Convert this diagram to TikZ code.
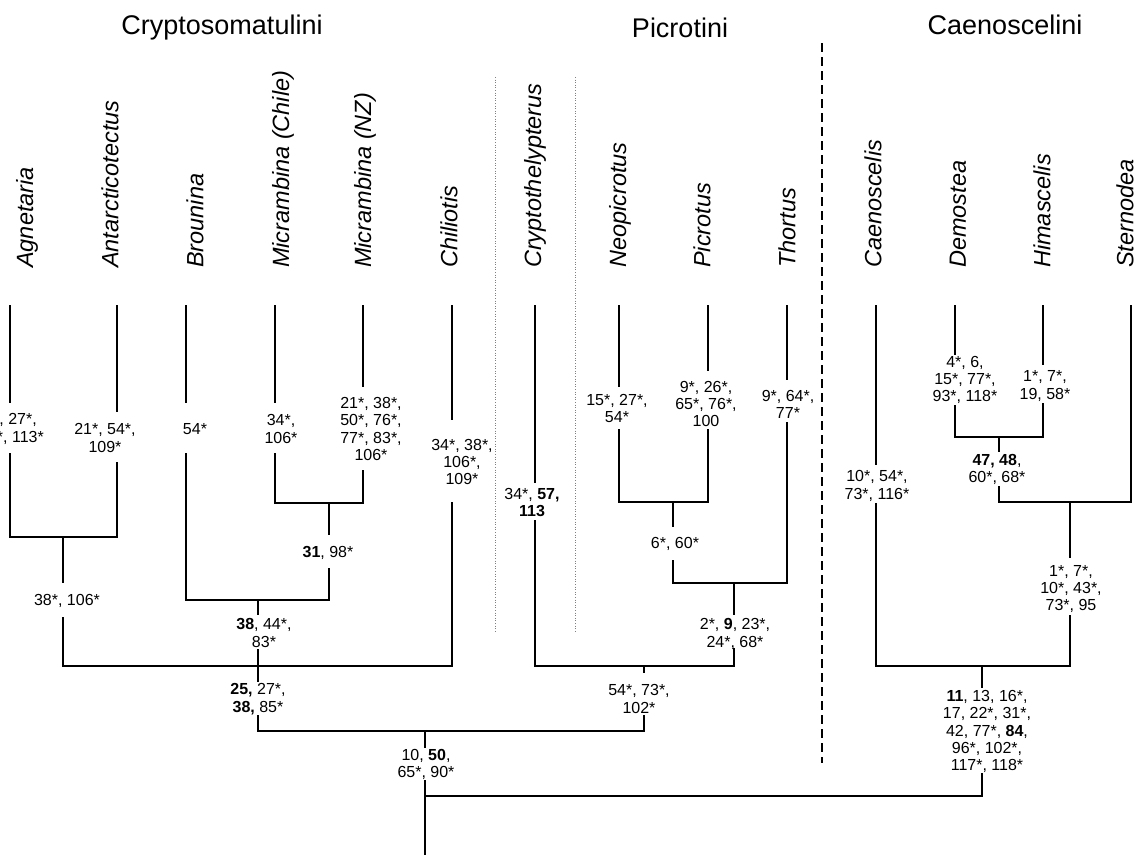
\documentclass[tikz,border=0pt]{standalone}
\usepackage{fontspec}
\setmainfont{Liberation Sans}
\begin{document}
\begin{tikzpicture}[x=1pt,y=-1pt,
  br/.style={line width=1.5pt, line join=miter},
  gapbox/.style={fill=white, inner sep=0pt, minimum width=7pt},
  lab/.style={font=\fontsize{16}{17.3}\selectfont, align=center, inner sep=0pt},
  taxon/.style={rotate=90, anchor=west, inner sep=0pt, font=\fontsize{23.5}{28}\selectfont\itshape},
  grouptitle/.style={anchor=base, inner sep=0pt, font=\fontsize{27}{32}\selectfont},
  tribesep/.style={line width=0.6pt, gray, dotted},
  cladesep/.style={line width=1.5pt, dash pattern=on 9pt off 5pt}]
\useasboundingbox (0,0) rectangle (1137,857);
\fill[white] (0,0) rectangle (1137,857);

% group titles
\node[grouptitle] (gCry) at (222,34) {Cryptosomatulini};
\node[grouptitle] (gPic) at (680,37.5) {Picrotini};
\node[grouptitle] (gCae) at (1005,34.5) {Caenoscelini};

% separators
\coordinate (d1t) at (495,77); \coordinate (d1b) at (495,632);
\coordinate (d2t) at (575,77); \coordinate (d2b) at (575,632);
\coordinate (dsT) at (822,43); \coordinate (dsB) at (822,763);
\draw[tribesep] (d1t) -- (d1b);
\draw[tribesep] (d2t) -- (d2b);
\draw[cladesep] (dsT) -- (dsB);

% taxon names
\node[taxon] (lAgn) at (27,268) {Agnetaria};
\node[taxon] (lAnt) at (110,268) {Antarcticotectus};
\node[taxon] (lBro) at (195,268) {Brounina};
\node[taxon] (lMC)  at (283,268) {Micrambina (Chile)};
\node[taxon] (lMN)  at (365,268) {Micrambina (NZ)};
\node[taxon] (lChi) at (449,268) {Chiliotis};
\node[taxon] (lCry) at (535,268) {Cryptothelypterus};
\node[taxon] (lNeo) at (620,268) {Neopicrotus};
\node[taxon] (lPic) at (702,268) {Picrotus};
\node[taxon] (lTho) at (787,268) {Thortus};
\node[taxon] (lCae) at (873,268) {Caenoscelis};
\node[taxon] (lDem) at (958,268) {Demostea};
\node[taxon] (lHim) at (1042,268) {Himascelis};
\node[taxon] (lSte) at (1125,268) {Sternodea};

% tips
\coordinate (tAgn) at (10,305);
\coordinate (tAnt) at (117,305);
\coordinate (tBro) at (186,305);
\coordinate (tMC)  at (275,305);
\coordinate (tMN)  at (363,305);
\coordinate (tChi) at (452,305);
\coordinate (tCry) at (535,305);
\coordinate (tNeo) at (619,305);
\coordinate (tPic) at (708,305);
\coordinate (tTho) at (787,305);
\coordinate (tCae) at (876,305);
\coordinate (tDem) at (955,305);
\coordinate (tHim) at (1043,305);
\coordinate (tSte) at (1131,305);

% internal nodes
\coordinate (nAA)  at (63,537);
\coordinate (nMM)  at (329,503);
\coordinate (nBM)  at (258,600);
\coordinate (nCr)  at (258,666);
\coordinate (nNP)  at (673,502);
\coordinate (nPT)  at (734,583);
\coordinate (nCP)  at (644,666);
\coordinate (nCC)  at (425,731);
\coordinate (nDH)  at (999,437);
\coordinate (nDS)  at (1070,502);
\coordinate (nCa)  at (982,666);
\coordinate (nRoot) at (425,796);
\coordinate (rootEnd) at (425,855);

% branches
\draw[br] (tAgn) |- (nAA) -| (tAnt);
\draw[br] (tMC) |- (nMM) -| (tMN);
\draw[br] (tBro) |- (nBM) -| (nMM);
\draw[br] (nAA) |- (nCr) -| (tChi);
\draw[br] (nBM) -- (nCr);
\draw[br] (tNeo) |- (nNP) -| (tPic);
\draw[br] (nNP) |- (nPT) -| (tTho);
\draw[br] (tCry) |- (nCP) -| (nPT);
\draw[br] (nCr) |- (nCC) -| (nCP);
\draw[br] (tDem) |- (nDH) -| (tHim);
\draw[br] (nDH) |- (nDS) -| (tSte);
\draw[br] (tCae) |- (nCa) -| (nDS);
\draw[br] (nCC) |- (nRoot) -| (nCa);
\draw[br] (nRoot) -- (rootEnd);

% gaps in branches under the labels
\node[gapbox, minimum height=50pt] (gAgn) at (10,428) {};
\node[gapbox, minimum height=50pt] (gAnt) at (117,437) {};
\node[gapbox, minimum height=50pt] (gBro) at (186,428) {};
\node[gapbox, minimum height=50pt] (gMC)  at (275,428) {};
\node[gapbox, minimum height=83pt] (gMN)  at (363,428.5) {};
\node[gapbox, minimum height=82pt] (gChi) at (452,461) {};
\node[gapbox, minimum height=37pt] (gCry) at (535,501.5) {};
\node[gapbox, minimum height=42pt] (gNeo) at (619,408) {};
\node[gapbox, minimum height=58pt] (gPic) at (708,400) {};
\node[gapbox, minimum height=42pt] (gTho) at (787,401) {};
\node[gapbox, minimum height=38pt] (gCae) at (876,484) {};
\node[gapbox, minimum height=50pt] (gDem) at (955,380) {};
\node[gapbox, minimum height=38pt] (gHim) at (1043,384) {};
\node[gapbox, minimum height=34pt] (gDH)  at (999,469) {};
\node[gapbox, minimum height=57pt] (gDS)  at (1070,586.5) {};
\node[gapbox, minimum height=33pt] (gMM)  at (329,551.5) {};
\node[gapbox, minimum height=33pt] (gNP)  at (673,543.5) {};
\node[gapbox, minimum height=34pt] (gAA)  at (63,600) {};
\node[gapbox, minimum height=34pt] (gBM)  at (258,632) {};
\node[gapbox, minimum height=33pt] (gCr)  at (258,698.5) {};
\node[gapbox, minimum height=33pt] (gPT)  at (734,631.5) {};
\node[gapbox, minimum height=42pt] (gCP)  at (644,694) {};
\node[gapbox, minimum height=32pt] (gCC)  at (425,764) {};
\node[gapbox, minimum height=85pt] (gCa)  at (982,730.5) {};

% character labels
\node[lab, anchor=east] (cAgnA) at (37,420) {, 27*,};
\node[lab, anchor=east] (cAgnB) at (44,438) {*, 113*};
\node[lab] (cAnt) at (105,438) {21*, 54*,\\109*};
\node[lab] (cBro) at (195,429) {54*};
\node[lab] (cMC)  at (281,429) {34*,\\106*};
\node[lab] (cMN)  at (371,429) {21*, 38*,\\50*, 76*,\\77*, 83*,\\106*};
\node[lab] (cChi) at (462,462) {34*, 38*,\\106*,\\109*};
\node[lab] (cCry) at (532,502.5) {34*, \textbf{57,}\\\textbf{113}};
\node[lab] (cNeo) at (617,408.5) {15*, 27*,\\54*};
\node[lab] (cPic) at (706,404) {9*, 26*,\\65*, 76*,\\100};
\node[lab] (cTho) at (788,404.5) {9*, 64*,\\77*};
\node[lab] (cCae) at (877,486) {10*, 54*,\\73*, 116*};
\node[lab] (cDem) at (965,380) {4*, 6,\\15*, 77*,\\93*, 118*};
\node[lab] (cHim) at (1045,386) {1*, 7*,\\19, 58*};
\node[lab] (cDH)  at (997,469.5) {\textbf{47, 48},\\60*, 68*};
\node[lab] (cDS)  at (1071,589) {1*, 7*,\\10*, 43*,\\73*, 95};
\node[lab] (cMM)  at (328,553) {\textbf{31}, 98*};
\node[lab] (cNP)  at (675,544) {6*, 60*};
\node[lab] (cAA)  at (67,601) {38*, 106*};
\node[lab] (cBM)  at (264,633) {\textbf{38}, 44*,\\83*};
\node[lab] (cCr)  at (258,699) {\textbf{25,} 27*,\\\textbf{38,} 85*};
\node[lab] (cPT)  at (735,634) {2*, \textbf{9}, 23*,\\24*, 68*};
\node[lab] (cCP)  at (639,699) {54*, 73*,\\102*};
\node[lab] (cCC)  at (426,764.5) {10, \textbf{50},\\65*, 90*};
\node[lab] (cCa)  at (987,731.5) {\textbf{11}, 13, 16*,\\17, 22*, 31*,\\42, 77*, \textbf{84},\\96*, 102*,\\117*, 118*};
\end{tikzpicture}
\end{document}
